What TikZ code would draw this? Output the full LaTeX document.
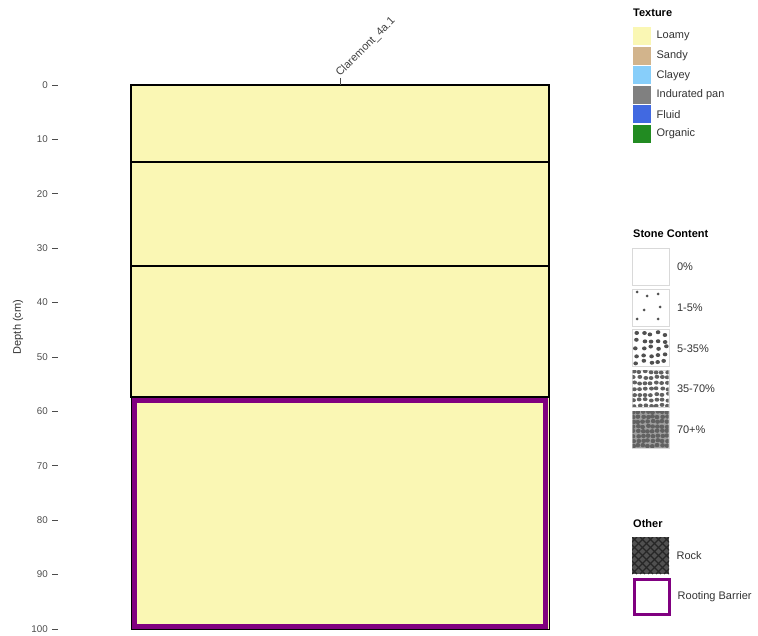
\documentclass[tikz,border=0pt]{standalone}
\usepackage{fontspec}
\setmainfont{Liberation Sans}
\usetikzlibrary{positioning}

\definecolor{loamy}{HTML}{FAF7B4}
\definecolor{sandy}{HTML}{D2B48C}
\definecolor{clayey}{HTML}{87CEFA}
\definecolor{indurated}{HTML}{808080}
\definecolor{fluid}{HTML}{4169E1}
\definecolor{organic}{HTML}{228B22}
\definecolor{barrier}{HTML}{800080}
\definecolor{stonegray}{HTML}{505050}

\begin{document}
\begin{tikzpicture}[
		x=1pt, y=-1pt,
		% Estilos del perfil y de la leyenda
		layer/.style = {draw=black, line width=1.5pt, fill=loamy},
		tick/.style = {draw=gray!60!black, line width=0.8pt},
		ticklabel/.style = {font=\fontsize{9.8}{11}\selectfont, text=black!70, anchor=east, inner sep=0pt},
		legtitle/.style = {font=\fontsize{11}{13}\selectfont\bfseries, anchor=north west, inner sep=0pt},
		leglabel/.style = {font=\fontsize{11}{13}\selectfont, text=black!80, inner sep=0pt},
		swatch/.style = {rectangle, minimum width=18pt, minimum height=18pt, inner sep=0pt, anchor=north west},
		stonebox/.style = {rectangle, draw=gray!30, line width=0.8pt, fill=white, minimum size=37pt, inner sep=0pt, anchor=north west},
		stone/.style = {fill=stonegray},
		node distance=5pt
		]
		\useasboundingbox (0,0) rectangle (758,636);
		
		% --- EJE DE PROFUNDIDAD ---
		\foreach \d in {0,10,...,100} {
			\draw [tick] (52,{85+5.44*\d}) -- (58,{85+5.44*\d});
			\node [ticklabel] (tick\d) at (48,{85+5.44*\d}) {\d};
		}
		\node [rotate=90, font=\fontsize{11}{13}\selectfont, text=black!80] (depth_lbl) at (18,327) {Depth (cm)};
		
		% --- HORIZONTES DEL PERFIL ---
		\draw [layer] (131,85) rectangle (549,162);
		\draw [layer] (131,162) rectangle (549,266);
		\draw [layer] (131,266) rectangle (549,397);
		\draw [layer, line width=1pt] (131,397) rectangle (549,629);
		% Barrera radicular
		\draw [barrier, line width=5pt] (134.5,400) rectangle (545.5,626);
		
		% Nombre del perfil
		\draw [tick] (340,78) -- (340,85);
		\node [rotate=45, anchor=west, inner sep=0pt, font=\fontsize{11}{13}\selectfont, text=black!75] (site_lbl) at (338,75) {Claremont\_4a.1};
		
		% --- LEYENDA: TEXTURA ---
		\node [legtitle] (tex_title) at (633,9) {Texture};
		\node [swatch, fill=loamy] (sw_loamy) at (633,27) {};
		\node [swatch, fill=sandy] (sw_sandy) at (633,46.5) {};
		\node [swatch, fill=clayey] (sw_clayey) at (633,66) {};
		\node [swatch, fill=indurated] (sw_pan) at (633,85.5) {};
		\node [swatch, fill=fluid] (sw_fluid) at (633,105) {};
		\node [swatch, fill=organic] (sw_organic) at (633,124.5) {};
		\node [leglabel, right=of sw_loamy] {Loamy};
		\node [leglabel, right=of sw_sandy] {Sandy};
		\node [leglabel, right=of sw_clayey] {Clayey};
		\node [leglabel, right=of sw_pan] {Indurated pan};
		\node [leglabel, right=of sw_fluid] {Fluid};
		\node [leglabel, right=of sw_organic] {Organic};
		
		% --- LEYENDA: PEDREGOSIDAD ---
		\node [legtitle] (stone_title) at (633,230) {Stone Content};
		\node [stonebox] (st0) at (632,248) {};
		\node [stonebox] (st1) at (632,289) {};
		\node [stonebox] (st2) at (632,329.5) {};
		\node [stonebox] (st3) at (632,370) {};
		\node [stonebox] (st4) at (632,410.5) {};
		\node [leglabel, right=7pt of st0] {0\%};
		\node [leglabel, right=7pt of st1] {1-5\%};
		\node [leglabel, right=7pt of st2] {5-35\%};
		\node [leglabel, right=7pt of st3] {35-70\%};
		\node [leglabel, right=7pt of st4] {70+\%};
		
		% Piedras dispersas (1-5%)
		\begin{scope}[shift={(632,289)}]
			\foreach \px/\py in {5/3, 15/7, 26/5, 12/21, 28/18, 5/30, 26/30}
				\fill [stone] (\px,\py) circle (1.5);
		\end{scope}
		% Piedras comunes (5-35%)
		\pgfmathsetseed{11}
		\begin{scope}[shift={(632,329.5)}]
			\clip (0.5,0.5) rectangle (36.5,36.5);
			\foreach \i in {0,...,4} \foreach \j in {0,...,4} {
				\fill [stone] ({4+7.2*\i+1.8*rand},{4+7.2*\j+1.8*rand}) ellipse (2.3 and 2);
			}
		\end{scope}
		% Piedras abundantes (35-70%)
		\begin{scope}[shift={(632,370)}]
			\clip (0.5,0.5) rectangle (36.5,36.5);
			\foreach \i in {0,...,6} \foreach \j in {0,...,6} {
				\fill [stonegray!90] ({2+5.6*\i+0.8*rand},{2+5.6*\j+0.8*rand}) ellipse (2.4 and 2);
			}
		\end{scope}
		% Piedras dominantes (70+%)
		\begin{scope}[shift={(632,410.5)}]
			\clip (0.5,0.5) rectangle (36.5,36.5);
			\fill [gray!75] (0,0) rectangle (37,37);
			\foreach \i in {0,...,7} \foreach \j in {0,...,7} {
				\fill [stonegray!90] ({1.5+4.8*\i+0.6*rand},{1.5+4.8*\j+0.6*rand}) ellipse (2.4 and 2.2);
			}
		\end{scope}
		
		% --- LEYENDA: OTROS ---
		\node [legtitle] (other_title) at (633,519) {Other};
		\node [swatch, minimum size=37pt, fill=stonegray] (sw_rock) at (632,537) {};
		\begin{scope}
			\clip (632,537) rectangle (669,574);
			\foreach \k in {-40,-32,...,40} {
				\draw [black!85, line width=1.2pt] ({632+\k},537) -- ({669+\k},574);
				\draw [black!85, line width=1.2pt] ({632+\k},574) -- ({669+\k},537);
			}
		\end{scope}
		\node [swatch, minimum size=35pt, draw=barrier, line width=2.5pt, fill=white] (sw_barrier) at (633,578) {};
		\node [leglabel, right=7pt of sw_rock] {Rock};
		\node [leglabel, right=7pt of sw_barrier] {Rooting Barrier};
		
	\end{tikzpicture}
\end{document}
